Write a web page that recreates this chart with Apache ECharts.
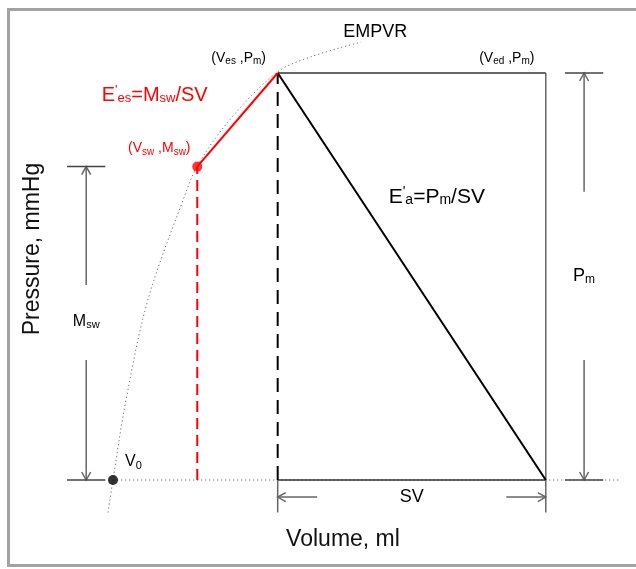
<!DOCTYPE html>
<html>
<head>
<meta charset="utf-8">
<script src="https://cdn.jsdelivr.net/npm/echarts@6/dist/echarts.min.js"></script>
<style>
html,body{margin:0;padding:0;background:#fff;}
#chart{width:636px;height:569px;}
</style>
</head>
<body>
<div id="chart"></div>
<script>
// ---- data (volume in ml, pressure in mmHg) ----
const volumeNames = ['V0', 'Vsw', 'Ves', 'Ved'];
const volumeValues = [10, 32, 53, 123];
const pressureNames = ['Msw', 'Pm'];
const pressureValues = [77, 100];
// EMPVR curve (dotted)
const empvrVolume = [8.7, 10, 13.4, 19.1, 28.3, 32.2, 40.5, 52.6, 61.4, 74.8];
const empvrPressure = [-8, 0, 19.7, 44.2, 68.8, 77.4, 88.5, 100, 103.9, 107.6];
// annotation bracket geometry (data units)
const bracketVolumes = [3, 133];        // Msw bracket, Pm bracket
const bracketHalfWidth = [5, 5];
const baselineEndVolume = 142.6;
const svTickBottom = -8;
const svArrowPressure = -4.2;
const svArrowLength = 10.3;
const mswArrowStarts = [47.9, 29.5];
const pmArrowStarts = [70.8, 29.5];

const V0 = volumeValues[0], Vsw = volumeValues[1], Ves = volumeValues[2], Ved = volumeValues[3];
const Msw = pressureValues[0], Pm = pressureValues[1];

const FONT = '"Liberation Sans", Arial, Helvetica, sans-serif';

function seg(points, color, width, type) {
  return {
    type: 'line', data: points, symbol: 'none', silent: true, animation: false, z: 3,
    lineStyle: { color: color, width: width, type: type || 'solid', cap: 'butt' }
  };
}

const arrowData = [
  [bracketVolumes[0], mswArrowStarts[0], bracketVolumes[0], Msw],
  [bracketVolumes[0], mswArrowStarts[1], bracketVolumes[0], 0],
  [bracketVolumes[1], pmArrowStarts[0], bracketVolumes[1], Pm],
  [bracketVolumes[1], pmArrowStarts[1], bracketVolumes[1], 0],
  [Ves + svArrowLength, svArrowPressure, Ves, svArrowPressure],
  [Ved - svArrowLength, svArrowPressure, Ved, svArrowPressure]
];

function rich(main, sub, color) {
  const base = { color: color, fontFamily: FONT, textBorderWidth: 0, textBorderColor: 'transparent', opacity: 1 };
  return {
    n: Object.assign({ fontSize: main }, base),
    s: Object.assign({ fontSize: sub, padding: [7, 0, 0, 0] }, base),
    p: Object.assign({ fontSize: sub, padding: [0, 0, 10, 0] }, base)
  };
}

function lab(x, y, text, color, main, sub, opts) {
  return {
    value: [x, y],
    label: Object.assign({
      show: true, position: [0, 0], formatter: text,
      align: 'center', verticalAlign: 'middle',
      color: color, opacity: 1, textBorderWidth: 0, textBorderColor: 'transparent',
      fontFamily: FONT, fontSize: main,
      rich: rich(main, sub, color)
    }, opts)
  };
}

const labels = [
  lab(empvrVolume[empvrVolume.length - 1], empvrPressure[empvrPressure.length - 1], '{n|EMPVR}', '#000', 18, 13,
      { offset: [14, -10] }),
  lab(Ves, Pm, '{n|(V}{s|es}{n| ,P}{s|m}{n|)}', '#000', 14, 10, { offset: [-39, -15] }),
  lab(Ved, Pm, '{n|(V}{s|ed}{n| ,P}{s|m}{n|)}', '#000', 14, 10, { offset: [-39, -15] }),
  lab(Vsw, Msw, '{n|(V}{s|sw}{n| ,M}{s|sw}{n|)}', '#ff0000', 14, 10, { offset: [-38, -18] }),
  lab(Ves, Pm, "{n|E}{p|'}{s|es}{n|=M}{s|sw}{n|/SV}", '#ff0000', 20, 13, { offset: [-70, 22], align: 'right' }),
  lab(Ves, Pm, "{n|E}{p|'}{s|a}{n|=P}{s|m}{n|/SV}", '#000', 21, 14, { offset: [111, 124], align: 'left' }),
  lab(V0, 0, '{n|V}{s|0}', '#000', 16, 11, { offset: [12, -18], align: 'left' }),
  lab(bracketVolumes[0], Msw / 2, '{n|M}{s|sw}', '#000', 16, 11, { offset: [0, -2] }),
  lab(bracketVolumes[1], Pm / 2, '{n|P}{s|m}', '#000', 18, 12, { offset: [0, 0] }),
  lab((Ves + Ved) / 2, svArrowPressure, '{n|SV}', '#000', 18, 12, { offset: [0, 0] })
];

const chart = echarts.init(document.getElementById('chart'), null, { renderer: 'canvas' });

const series = [
  // dotted baseline & EMPVR
  seg([[V0, 0], [baselineEndVolume, 0]], '#777', 1, [1.3, 2.7]),
  Object.assign(seg(empvrVolume.map((v, i) => [v, empvrPressure[i]]), '#777', 1, [1.3, 2.7]), { smooth: 0.35 }),
  // loop rectangle / triangle
  seg([[Ves, 0], [Ved, 0]], '#333', 1.5),
  seg([[Ves, Pm], [Ved, Pm]], '#333', 1.5),
  seg([[Ved, Pm], [Ved, svTickBottom]], '#666', 1.5),
  seg([[Ves, 0], [Ves, svTickBottom]], '#666', 1.5),
  seg([[Ves, Pm], [Ved, 0]], '#000', 2),
  seg([[Ves, 0], [Ves, Pm]], '#000', 2, [14, 8]),
  seg([[Vsw, 0], [Vsw, Msw]], '#ff0000', 2, [11, 6]),
  seg([[Vsw, Msw], [Ves, Pm]], '#ff0000', 2),
  // bracket ticks
  seg([[bracketVolumes[0] - bracketHalfWidth[0], Msw], [bracketVolumes[0] + bracketHalfWidth[0], Msw]], '#444', 1.5),
  seg([[bracketVolumes[0] - bracketHalfWidth[0], 0], [bracketVolumes[0] + bracketHalfWidth[0], 0]], '#444', 1.5),
  seg([[bracketVolumes[1] - bracketHalfWidth[1], Pm], [bracketVolumes[1] + bracketHalfWidth[1], Pm]], '#444', 1.5),
  seg([[bracketVolumes[1] - bracketHalfWidth[1], 0], [bracketVolumes[1] + bracketHalfWidth[1], 0]], '#444', 1.5),
  // arrows
  {
    type: 'custom', silent: true, animation: false, z: 3,
    data: arrowData,
    renderItem: function (params, api) {
      const p1 = api.coord([api.value(0), api.value(1)]);
      const p2 = api.coord([api.value(2), api.value(3)]);
      const dx = p2[0] - p1[0], dy = p2[1] - p1[1];
      const len = Math.sqrt(dx * dx + dy * dy) || 1;
      const ux = dx / len, uy = dy / len;
      const hl = 8, hw = 4.5;
      const a = [p2[0] - ux * hl - uy * hw, p2[1] - uy * hl + ux * hw];
      const b = [p2[0] - ux * hl + uy * hw, p2[1] - uy * hl - ux * hw];
      const st = { stroke: '#666', lineWidth: 1.5, fill: null };
      return {
        type: 'group',
        children: [
          { type: 'line', shape: { x1: p1[0], y1: p1[1], x2: p2[0], y2: p2[1] }, style: st },
          { type: 'polyline', shape: { points: [a, p2, b] }, style: st }
        ]
      };
    }
  },
  // text labels (invisible anchors)
  { type: 'scatter', data: labels, symbolSize: 0, itemStyle: { color: 'rgba(255,255,255,0)' }, silent: true, animation: false, z: 4 },
  // dots
  { type: 'scatter', data: [[Vsw, Msw]], symbolSize: 10, itemStyle: { color: '#ff0000' }, silent: true, animation: false, z: 5 },
  { type: 'scatter', data: [[V0, 0]], symbolSize: 10, itemStyle: { color: '#000' }, silent: true, animation: false, z: 5 }
];

chart.setOption({
  animation: false,
  backgroundColor: '#fff',
  grid: { left: 17.25, right: 5.95, top: 32.3, bottom: 7.6, containLabel: false },
  xAxis: { type: 'value', min: -15, max: 145, show: false },
  yAxis: { type: 'value', min: -20, max: 110, show: false },
  graphic: [
    { type: 'rect', shape: { x: 8.5, y: 9.5, width: 640, height: 556 }, style: { stroke: '#a3a3a3', lineWidth: 3, fill: null }, z: 1 },
    { type: 'text', x: 343, y: 540, style: { text: 'Volume, ml', font: '23px ' + FONT, fill: '#111', textAlign: 'center', textVerticalAlign: 'middle' }, z: 10 },
    { type: 'text', x: 33, y: 249, rotation: Math.PI / 2, style: { text: 'Pressure, mmHg', font: '23px ' + FONT, fill: '#111', textAlign: 'center', textVerticalAlign: 'middle' }, z: 10 }
  ],
  series: series
});
</script>
</body>
</html>
